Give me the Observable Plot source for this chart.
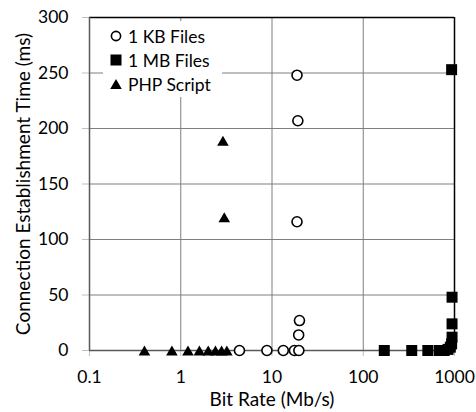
<!DOCTYPE html>
<html>
<head>
<meta charset="utf-8">
<script src="https://cdn.jsdelivr.net/npm/d3@7"></script>
<script src="https://cdn.jsdelivr.net/npm/@observablehq/plot@0.6"></script>
<style>
  body { margin: 0; background: #fff; font-family: Lato, "Open Sans", sans-serif; }
  #chart { position: relative; width: 476px; height: 412px; }
  #chart svg { display: block; }
  .legend { position: absolute; left: 103px; top: 21px; width: 119px; height: 76px; background: #fff; font-size: 17.5px; color: #000; }
  .legend .item { position: absolute; left: 6px; height: 24px; display: flex; align-items: center; white-space: nowrap; }
  .legend .item svg { width: 14px; height: 14px; margin-right: 5px; overflow: visible; }
</style>
</head>
<body>
<div id="chart"></div>
<script>
// Axis ticks and labels
const xTicks = [0.1, 1, 10, 100, 1000];
const xTickLabels = ["0.1", "1", "10", "100", "1000"];
const yTicks = [0, 50, 100, 150, 200, 250, 300];
const xTitle = "Bit Rate (Mb/s)";
const yTitle = "Connection Establishment Time (ms)";
const seriesNames = ["1 KB Files", "1 MB Files", "PHP Script"];

// 1 KB Files
const kbRate = [4.4, 8.8, 13.3, 17.6, 19.7, 18.8, 19.2, 18.8, 20.0, 19.6];
const kbTime = [0, 0, 0, 0, 0, 248, 207, 116, 27, 14];

// 1 MB Files
const mbRate = [170, 340, 510, 680, 770, 850, 900, 930, 940, 940, 940, 930];
const mbTime = [0, 0, 0, 0, 0, 1, 3, 6, 12, 24, 48, 253];

// PHP Script
const phpRate = [0.4, 0.8, 1.2, 1.6, 2.0, 2.4, 2.8, 3.2, 2.9, 3.0];
const phpTime = [0, 0, 0, 0, 0, 0, 0, 0, 189, 120];

const rows = (rate, time) => rate.map((r, i) => ({rate: r, time: time[i]}));
const kb = rows(kbRate, kbTime);
const mb = rows(mbRate, mbTime);
const php = rows(phpRate, phpTime);

// Upward triangle centred on its bounding box
const triangleUp = {
  draw(context, size) {
    const s = Math.sqrt(size * 4 / Math.sqrt(3));
    const h = s * Math.sqrt(3) / 2;
    context.moveTo(0, -h / 2);
    context.lineTo(s / 2, h / 2);
    context.lineTo(-s / 2, h / 2);
    context.closePath();
  }
};

const gridColor = "#7f7f7f";

const chart = Plot.plot({
  width: 476,
  height: 412,
  marginLeft: 89,
  marginRight: 22,
  marginTop: 17,
  marginBottom: 62,
  style: {fontFamily: "Lato, 'Open Sans', sans-serif", fontSize: "17.5px", color: "#000", background: "#fff"},
  x: {type: "log", domain: [0.1, 1000]},
  y: {domain: [0, 300]},
  marks: [
    Plot.gridX(xTicks.slice(1, -1), {stroke: gridColor, strokeOpacity: 1, strokeWidth: 1}),
    Plot.gridY(yTicks.slice(1, -1), {stroke: gridColor, strokeOpacity: 1, strokeWidth: 1}),
    Plot.ruleX([1000], {stroke: "#000", strokeWidth: 1.5}),
    Plot.ruleY([300], {stroke: "#000", strokeWidth: 1.5}),
    Plot.axisX({ticks: xTicks, tickFormat: d => xTickLabels[xTicks.indexOf(d)], tickSize: 6, tickPadding: 14,
      stroke: "#bfbfbf", fill: "#000", label: null}),
    Plot.axisY({ticks: yTicks, tickSize: 7, tickPadding: 14, stroke: "#bfbfbf", fill: "#000", label: null}),
    Plot.ruleX([0.1], {stroke: "#595959", strokeWidth: 1.5}),
    Plot.ruleY([0], {stroke: "#595959", strokeWidth: 1.5}),
    Plot.text([xTitle], {text: d => d, frameAnchor: "bottom", dy: 55.5, fontSize: 19, fill: "#000"}),
    Plot.text([yTitle], {text: d => d, frameAnchor: "left", textAnchor: "middle", rotate: -90, dx: -66, fontSize: 19, fill: "#000"}),
    Plot.dot(kb, {x: "rate", y: "time", symbol: "circle", r: 5, fill: "#fff", stroke: "#000", strokeWidth: 1.6}),
    Plot.dot(mb, {x: "rate", y: "time", symbol: "square", r: 6.2, fill: "#000", stroke: "none"}),
    Plot.dot(php, {x: "rate", y: "time", symbol: triangleUp, r: 4.3, fill: "#000", stroke: "none"})
  ]
});

const container = document.getElementById("chart");
container.append(chart);

// Legend box in the upper-left of the plot area
const legend = document.createElement("div");
legend.className = "legend";
const symbols = [
  '<svg viewBox="-7 -7 14 14"><circle r="4.6" fill="#fff" stroke="#000" stroke-width="1.6"/></svg>',
  '<svg viewBox="-7 -7 14 14"><rect x="-5.5" y="-5.5" width="11" height="11" fill="#000"/></svg>',
  '<svg viewBox="-7 -7 14 14"><path d="M0,-5L5.8,5L-5.8,5Z" fill="#000"/></svg>'
];
const rowTops = [3, 27, 51];
seriesNames.forEach((name, i) => {
  const item = document.createElement("div");
  item.className = "item";
  item.style.top = rowTops[i] + "px";
  item.innerHTML = symbols[i];
  const label = document.createElement("span");
  label.textContent = name;
  item.append(label);
  legend.append(item);
});
container.append(legend);
</script>
</body>
</html>
